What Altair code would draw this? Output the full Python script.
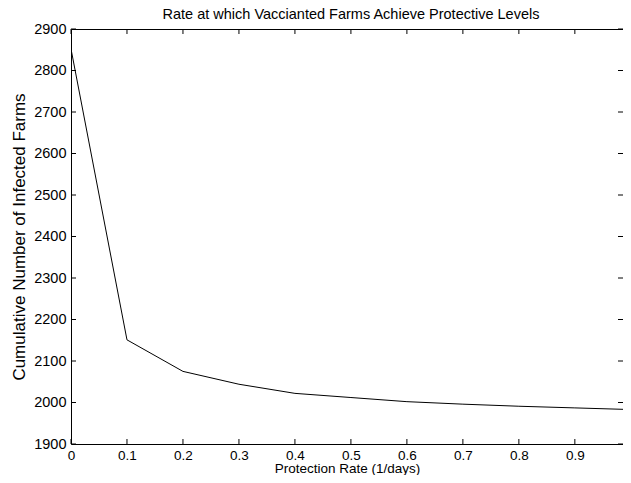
import altair as alt
import pandas as pd

rate = [0.0, 0.1, 0.2, 0.3, 0.4, 0.5, 0.6, 0.7, 0.8, 0.9, 1.0]
infected = [2852, 2151, 2075, 2044, 2022, 2012, 2002, 1996, 1991, 1987, 1983]
x_ticks = [0, 0.1, 0.2, 0.3, 0.4, 0.5, 0.6, 0.7, 0.8, 0.9]
y_ticks = list(range(1900, 3000, 100))

X_MAX = 0.986
Y_MIN, Y_MAX = 1900, 2900
W, H = 552, 415
TL = 5  # tick length in pixels
TX = TL * X_MAX / W          # tick length in x data units
TY = TL * (Y_MAX - Y_MIN) / H  # tick length in y data units

df = pd.DataFrame({"rate": rate, "infected": infected})
dfx = pd.DataFrame({"rate": x_ticks})
dfy = pd.DataFrame({"infected": y_ticks})

FONT = "Liberation Sans"
xs = alt.Scale(domain=[0, X_MAX], nice=False, zero=False)
ys = alt.Scale(domain=[Y_MIN, Y_MAX], nice=False, zero=False)

line = alt.Chart(df).mark_line(color="black", strokeWidth=1, clip=True).encode(
    x=alt.X("rate:Q", scale=xs,
            axis=alt.Axis(values=x_ticks, format=".1~f",
                          title="Protection Rate (1/days)",
                          grid=False, ticks=False, domain=False,
                          labelPadding=4, titlePadding=0,
                          labelFontSize=13.5, titleFontSize=13.5,
                          labelFlush=False)),
    y=alt.Y("infected:Q", scale=ys,
            axis=alt.Axis(values=y_ticks, format="d",
                          title="Cumulative Number of Infected Farms",
                          grid=False, ticks=False, domain=False,
                          labelPadding=5, titlePadding=5,
                          labelFontSize=14.5, titleFontSize=17)),
)

rule_style = dict(color="black", strokeWidth=1)

xb = alt.Chart(dfx).mark_rule(**rule_style).encode(
    x=alt.X("rate:Q", scale=xs),
    y=alt.datum(Y_MIN, scale=ys), y2=alt.datum(Y_MIN + TY))
xt = alt.Chart(dfx).mark_rule(**rule_style).encode(
    x=alt.X("rate:Q", scale=xs),
    y=alt.datum(Y_MAX, scale=ys), y2=alt.datum(Y_MAX - TY))
yl = alt.Chart(dfy).mark_rule(**rule_style).encode(
    y=alt.Y("infected:Q", scale=ys),
    x=alt.datum(0, scale=xs), x2=alt.datum(TX))
yr = alt.Chart(dfy).mark_rule(**rule_style).encode(
    y=alt.Y("infected:Q", scale=ys),
    x=alt.datum(X_MAX, scale=xs), x2=alt.datum(X_MAX - TX))

chart = alt.layer(line, xb, xt, yl, yr).properties(
    width=W,
    height=H,
    background="white",
    title=alt.TitleParams("Rate at which Vaccianted Farms Achieve Protective Levels",
                          fontSize=14.5, fontWeight="normal", font=FONT,
                          color="black", offset=1, dx=4, dy=2),
    autosize=alt.AutoSizeParams(type="none"),
    padding={"left": 63, "top": 21, "right": 0, "bottom": 31},
).configure_view(
    stroke="black", strokeWidth=1
).configure_axis(
    labelColor="black", titleColor="black", labelFont=FONT, titleFont=FONT,
    titleFontWeight="normal",
)

chart.save("out.html", embed_options={"renderer": "svg", "actions": False})
